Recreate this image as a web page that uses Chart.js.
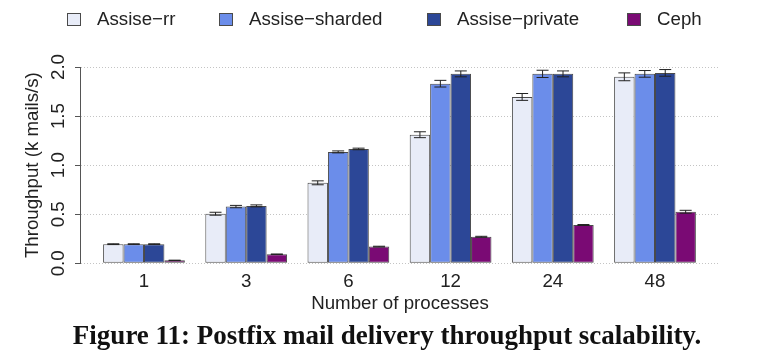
<html lang="en">
<head>
<meta charset="UTF-8">
<title>Postfix throughput</title>
<script src="https://cdn.jsdelivr.net/npm/chart.js"></script>
<style>
    body { margin: 0; background: #fff; }
</style>
</head>
<body>
<canvas id="postfix" width="777" height="353"></canvas>
<script>
    // data
    var processes = ['1', '3', '6', '12', '24', '48'];
    var seriesNames = ['Assise\u2212rr', 'Assise\u2212sharded', 'Assise\u2212private', 'Ceph'];
    var assiseRr = [0.195, 0.505, 0.82, 1.31, 1.695, 1.90];
    var assiseSharded = [0.195, 0.578, 1.135, 1.83, 1.93, 1.93];
    var assisePrivate = [0.195, 0.585, 1.165, 1.93, 1.93, 1.94];
    var ceph = [0.03, 0.092, 0.17, 0.27, 0.39, 0.525];
    var errRr = [0.004, 0.015, 0.02, 0.03, 0.035, 0.04];
    var errSharded = [0.004, 0.012, 0.01, 0.034, 0.037, 0.034];
    var errPrivate = [0.004, 0.01, 0.008, 0.03, 0.03, 0.034];
    var errCeph = [0.002, 0.003, 0.004, 0.005, 0.005, 0.015];
    var yTicks = [0, 0.5, 1.0, 1.5, 2.0];

    var colors = ['#e8ecf8', '#6b8dea', '#2c4797', '#7a0a74'];
    var FONT = '"Liberation Sans", Arial, sans-serif';
    var FSIZE = 18.7;

    function points(values) {
        return values.map(function (v, i) { return { x: i, y: v }; });
    }

    function makeDataset(i, values, errs) {
        return {
            label: seriesNames[i],
            data: points(values),
            errors: errs,
            backgroundColor: colors[i],
            borderColor: '#4a4a4a',
            borderWidth: 1,
            borderSkipped: false,
            categoryPercentage: 0.8,
            barPercentage: 1.0
        };
    }

    // error bars drawn over each bar
    var errorBars = {
        id: 'errorBars',
        afterDatasetsDraw: function (chart) {
            var ctx = chart.ctx;
            var y = chart.scales.y;
            ctx.save();
            ctx.strokeStyle = '#222';
            ctx.lineWidth = 1;
            chart.data.datasets.forEach(function (ds, di) {
                chart.getDatasetMeta(di).data.forEach(function (bar, i) {
                    var v = ds.data[i].y, e = ds.errors[i];
                    var top = y.getPixelForValue(v + e), bot = y.getPixelForValue(v - e);
                    var cx = bar.x, w = 6;
                    ctx.beginPath();
                    ctx.moveTo(cx, top); ctx.lineTo(cx, bot);
                    ctx.moveTo(cx - w, top); ctx.lineTo(cx + w, top);
                    ctx.moveTo(cx - w, bot); ctx.lineTo(cx + w, bot);
                    ctx.stroke();
                });
            });
            ctx.restore();
        }
    };

    // legend row on top and figure caption at the bottom
    var legendAndCaption = {
        id: 'legendAndCaption',
        afterDraw: function (chart) {
            var ctx = chart.ctx;
            var xs = [67, 219, 427, 627];
            ctx.save();
            ctx.font = FSIZE + 'px ' + FONT;
            ctx.textBaseline = 'middle';
            ctx.textAlign = 'left';
            chart.data.datasets.forEach(function (ds, i) {
                ctx.fillStyle = ds.backgroundColor;
                ctx.fillRect(xs[i] + 0.5, 13.5, 13, 12);
                ctx.strokeStyle = '#4a4a4a';
                ctx.lineWidth = 1;
                ctx.strokeRect(xs[i] + 0.5, 13.5, 13, 12);
                ctx.fillStyle = '#222';
                ctx.fillText(ds.label, xs[i] + 30, 20);
            });
            ctx.font = 'bold 27px "Liberation Serif", "Times New Roman", serif';
            ctx.textAlign = 'center';
            ctx.textBaseline = 'alphabetic';
            ctx.fillStyle = '#111';
            ctx.fillText('Figure 11: Postfix mail delivery throughput scalability.', 387, 344);
            ctx.restore();
        }
    };

    var ctx = document.getElementById('postfix').getContext('2d');

    var myChart = new Chart(ctx, {
        type: 'bar',
        data: {
            datasets: [
                makeDataset(0, assiseRr, errRr),
                makeDataset(1, assiseSharded, errSharded),
                makeDataset(2, assisePrivate, errPrivate),
                makeDataset(3, ceph, errCeph)
            ]
        },
        options: {
            responsive: false,
            animation: false,
            layout: {
                padding: { left: 0, top: 67, right: 57, bottom: 0 }
            },
            plugins: {
                legend: { display: false },
                tooltip: { enabled: false }
            },
            scales: {
                x: {
                    type: 'linear',
                    offset: false,
                    min: -0.626,
                    max: 5.636,
                    grid: { display: false, drawTicks: false, offset: false },
                    border: { display: false },
                    afterBuildTicks: function (scale) {
                        scale.ticks = processes.map(function (p, i) { return { value: i }; });
                    },
                    afterFit: function (scale) { scale.height = 89.7; },
                    ticks: {
                        autoSkip: false,
                        padding: 7,
                        color: '#222',
                        font: { family: FONT, size: FSIZE },
                        callback: function (v) { return processes[v]; }
                    },
                    title: {
                        display: true,
                        text: 'Number of processes',
                        color: '#222',
                        font: { family: FONT, size: FSIZE },
                        padding: { top: 0, bottom: 38 }
                    }
                },
                y: {
                    min: 0,
                    max: 2,
                    afterBuildTicks: function (scale) {
                        scale.ticks = yTicks.map(function (v) { return { value: v }; });
                    },
                    afterFit: function (scale) { scale.width = 80; },
                    grid: {
                        color: '#c4c4c4',
                        tickColor: '#555',
                        tickLength: 5,
                        lineWidth: 1
                    },
                    border: { display: true, color: '#555', width: 1, dash: [1, 2] },
                    ticks: {
                        minRotation: 90,
                        maxRotation: 90,
                        crossAlign: 'center',
                        padding: 3,
                        color: '#222',
                        font: { family: FONT, size: FSIZE },
                        callback: function (v) { return v.toFixed(1); }
                    },
                    title: {
                        display: true,
                        text: 'Throughput (k mails/s)',
                        color: '#222',
                        font: { family: FONT, size: FSIZE },
                        padding: { top: 22, bottom: 0 }
                    }
                }
            }
        },
        plugins: [errorBars, legendAndCaption]
    });
</script>
</body>
</html>
